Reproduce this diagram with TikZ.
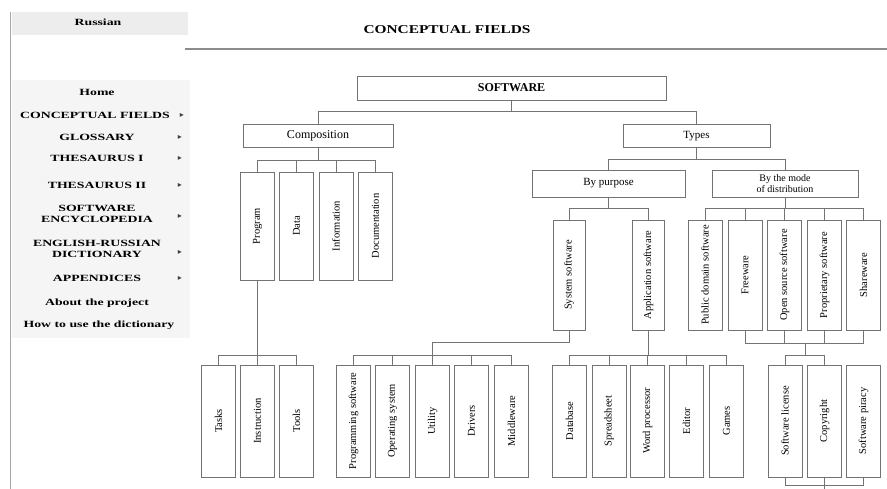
\documentclass[tikz,border=0pt]{standalone}
\usepackage{fontspec}
\setmainfont{Liberation Serif}
\newfontfamily\symfont{DejaVu Sans}
\begin{document}
\begin{tikzpicture}[x=1pt,y=-1pt,
  line/.style={draw=black!55, line width=0.9pt},
  hbox/.style={draw=black!55, line width=0.9pt, inner sep=0pt, font=\fontsize{11}{12}\selectfont, align=center},
  vbox/.style={draw=black!55, line width=0.9pt, inner sep=0pt, minimum width=34pt},
  vtext/.style={rotate=90, inner sep=0pt, font=\fontsize{10.5}{11}\selectfont},
  menu/.style={font=\bfseries\fontsize{9.5}{11}\selectfont, align=center, inner sep=0pt, xscale=1.45},
  arr/.style={font=\symfont\fontsize{8}{9}\selectfont, inner sep=0pt, text=black!75}
]
\useasboundingbox (0,0) rectangle (887,489);
\fill[white] (0,0) rectangle (887,489);
% sidebar
\fill[black!7] (12,12) rectangle (188,35);
\fill[black!4] (12,80) rectangle (190,338);
\draw[black!35, line width=1pt] (10,12) -- (10,489);
\node[menu] (russian) at (98,22) {Russian};
\node[menu] (home) at (97,92) {Home};
\node[menu] (m1) at (95,115) {CONCEPTUAL FIELDS};
\node[menu] (m2) at (97,137) {GLOSSARY};
\node[menu] (m3) at (97,158) {THESAURUS I};
\node[menu] (m4) at (97,185) {THESAURUS II};
\node[menu] (m5) at (97,214) {SOFTWARE\\ENCYCLOPEDIA};
\node[menu] (m6) at (97,249) {ENGLISH-RUSSIAN\\DICTIONARY};
\node[menu] (m7) at (97,278) {APPENDICES};
\node[menu] (m8) at (97,303) {About the project};
\node[menu] (m9) at (99,325) {How to use the dictionary};
\node[arr] (a1) at (182,115) {▸};
\node[arr] (a2) at (180,137) {▸};
\node[arr] (a3) at (180,158) {▸};
\node[arr] (a4) at (180,185) {▸};
\node[arr] (a5) at (180,216) {▸};
\node[arr] (a6) at (180,252) {▸};
\node[arr] (a7) at (180,278) {▸};
% title
\node[font=\bfseries\fontsize{12}{14}\selectfont, inner sep=0pt, xscale=1.28] (title) at (447,30) {CONCEPTUAL FIELDS};
\draw[black!45, line width=1.6pt] (185,49) -- (887,49);
% top levels
\node[hbox, minimum width=309pt, minimum height=24pt, font=\bfseries\fontsize{12}{13}\selectfont] (sw) at (511.5,88) {SOFTWARE};
\node[hbox, minimum width=150pt, minimum height=23pt] (comp) at (318,135.5) {\fontsize{12}{13}\selectfont Composition};
\node[hbox, minimum width=147pt, minimum height=23pt] (types) at (696.5,136) {Types};
\node[hbox, minimum width=153pt, minimum height=27pt] (purp) at (608.5,183.5) {By purpose};
\node[hbox, minimum width=146pt, minimum height=27pt, font=\fontsize{10}{11}\selectfont] (dist) at (785,183.5) {By the mode\\of distribution};
% composition children
\foreach \n/\x/\t in {prog/257.5/Program, data/296.5/Data, info/336/Information, doc/375.5/Documentation}{
  \node[vbox, minimum height=108pt] (\n) at (\x,226) {};
  \node[vtext] (\n t) at (\n) {\t};
}
% purpose children
\foreach \n/\x/\t in {sys/569/System software, app/648.5/Application software}{
  \node[vbox, minimum width=32pt, minimum height=110pt] (\n) at (\x,275) {};
  \node[vtext] (\n t) at (\n) {\t};
}
% distribution children
\foreach \n/\x/\t in {pub/705/Public domain software, free/745/Freeware, open/784.5/Open source software, prop/824.5/Proprietary software, share/863.5/Shareware}{
  \node[vbox, minimum height=110pt] (\n) at (\x,275) {};
  \node[vtext] (\n t) at (\n) {\t};
}
% bottom row
\foreach \n/\x/\t in {tasks/218.5/Tasks, instr/257.5/Instruction, tools/296.5/Tools,
  pgs/353.5/Programming software, os/392.5/Operating system, util/432.5/Utility, drv/471.5/Drivers, mid/511.5/Middleware,
  db/569.5/Database, ss/609/Spreadsheet, wp/647.5/Word processor, ed/686.5/Editor, gm/726.5/Games,
  lic/785/Software license, copy/824.5/Copyright, pir/863.5/Software piracy}{
  \node[vbox, minimum height=112pt] (\n) at (\x,421) {};
  \node[vtext] (\n t) at (\n) {\t};
}
% connectors
\foreach \c in {comp, types} \draw[line] (sw.south) -- ++(0,11) -| (\c.north);
\foreach \c in {prog, data, info, doc} \draw[line] (comp.south) -- ++(0,13) -| (\c.north);
\foreach \c in {purp, dist} \draw[line] (types.south) -- ++(0,11.5) -| (\c.north);
\foreach \c in {sys, app} \draw[line] (purp.south) -- ++(0,11) -| (\c.north);
\foreach \c in {pub, free, open, prop, share} \draw[line] (dist.south) -- ++(0,11) -| (\c.north);
\foreach \c in {tasks, instr, tools} \draw[line] (prog.south) -- ++(0,75) -| (\c.north);
\coordinate (sysj) at (432.5,355);
\draw[line] (sys.south) -- ++(0,12) -| (sysj);
\foreach \c in {pgs, os, util, drv, mid} \draw[line] (sysj) -| (\c.north);
\foreach \c in {db, ss, wp, ed, gm} \draw[line] (app.south) -- ++(0,25) -| (\c.north);
\coordinate (dj) at (805,343);
\coordinate (dj2) at (805,355);
\foreach \c in {free, open, prop, share} \draw[line] (\c.south) |- (dj);
\draw[line] (dj) -- (dj2);
\foreach \c in {lic, copy} \draw[line] (dj2) -| (\c.north);
\coordinate (bj) at (824.5,489);
\draw[line] (lic.south) -- ++(0,8) -| (pir.south);
\draw[line] (copy.south) -- (bj);
\end{tikzpicture}
\end{document}
